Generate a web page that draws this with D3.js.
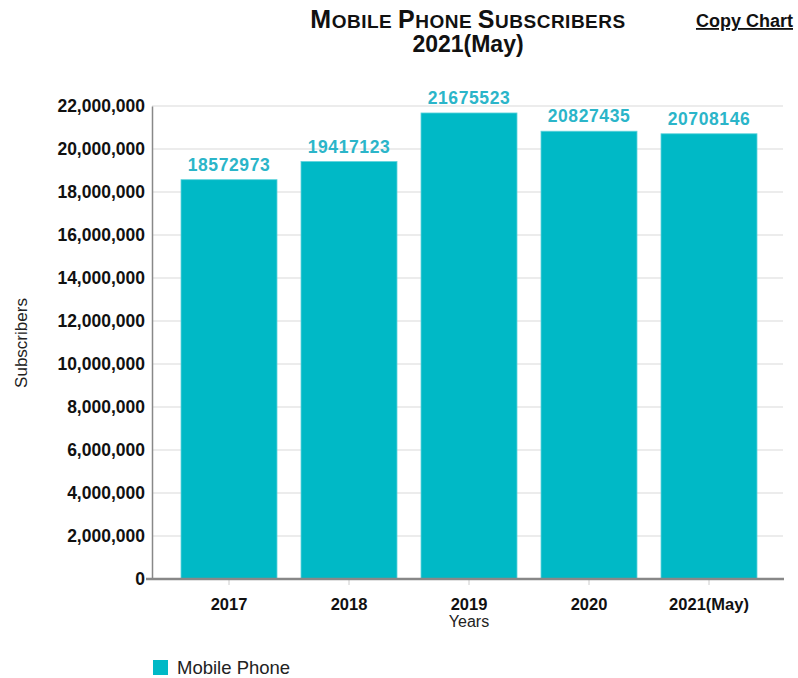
<!DOCTYPE html>
<html>
<head>
<meta charset="utf-8">
<script src="https://cdn.jsdelivr.net/npm/d3@7"></script>
<style>
  html, body { margin: 0; padding: 0; background: #fff; }
  svg { display: block; font-family: Arial, "Liberation Sans", sans-serif; }
</style>
</head>
<body>
<svg id="chart" width="798" height="678"></svg>
<script>
// Subscriber counts per year
const years = ["2017", "2018", "2019", "2020", "2021(May)"];
const subscribers = [18572973, 19417123, 21675523, 20827435, 20708146];
const yTicks = [0, 2000000, 4000000, 6000000, 8000000, 10000000, 12000000,
                14000000, 16000000, 18000000, 20000000, 22000000];
const seriesName = "Mobile Phone";

const barColor = "#00b9c6";
const labelColor = "#2bb5c9";
const fontStack = "Arial, 'Liberation Sans', sans-serif";

const svg = d3.select("#chart");
const plot = { left: 152, right: 783, top: 106, bottom: 579 };

const x = d3.scaleBand()
  .domain(years)
  .range([169, 769])
  .paddingInner(0.2)
  .paddingOuter(0.1);

const y = d3.scaleLinear()
  .domain([0, 22000000])
  .range([plot.bottom, plot.top]);

// Horizontal grid lines
svg.append("g")
  .selectAll("line")
  .data(yTicks.filter(t => t > 0))
  .join("line")
  .attr("x1", plot.left)
  .attr("x2", plot.right)
  .attr("y1", d => y(d))
  .attr("y2", d => y(d))
  .attr("stroke", "#e6e6e6")
  .attr("stroke-width", 1.5);

const rows = years.map((yr, i) => ({ yr, v: subscribers[i] }));

// Bars
svg.append("g")
  .selectAll("rect")
  .data(rows)
  .join("rect")
  .attr("x", d => x(d.yr))
  .attr("width", x.bandwidth())
  .attr("y", d => y(d.v))
  .attr("height", d => y(0) - y(d.v))
  .attr("fill", barColor)
  .attr("stroke", "#5fd3dc")
  .attr("stroke-width", 0.8);

// Value labels above bars
svg.append("g")
  .selectAll("text")
  .data(rows)
  .join("text")
  .attr("x", d => x(d.yr) + x.bandwidth() / 2)
  .attr("y", d => y(d.v) - 9)
  .attr("text-anchor", "middle")
  .attr("fill", labelColor)
  .attr("font-size", 17.5)
  .attr("font-weight", "bold")
  .attr("letter-spacing", 0.6)
  .text(d => d.v);

// Y axis
const yAxis = svg.append("g")
  .attr("transform", `translate(${plot.left},0)`)
  .call(d3.axisLeft(y)
    .tickValues(yTicks)
    .tickSize(0)
    .tickPadding(7)
    .tickFormat(d3.format(",")));
yAxis.select(".domain").attr("stroke", "#888").attr("stroke-width", 1.5);
yAxis.selectAll("text")
  .attr("font-size", 17.5)
  .attr("font-weight", "bold")
  .attr("fill", "#111")
  .attr("font-family", fontStack);

// X axis
const xAxis = svg.append("g")
  .attr("transform", `translate(0,${plot.bottom})`)
  .call(d3.axisBottom(x).tickSize(6).tickPadding(13).tickSizeOuter(0));
xAxis.select(".domain").remove();
xAxis.selectAll(".tick line").attr("stroke", "#ccc");
xAxis.selectAll("text")
  .attr("font-size", 16.5)
  .attr("font-weight", "bold")
  .attr("fill", "#111")
  .attr("font-family", fontStack);
svg.append("line")
  .attr("x1", plot.left - 6)
  .attr("x2", plot.right + 1)
  .attr("y1", plot.bottom)
  .attr("y2", plot.bottom)
  .attr("stroke", "#888")
  .attr("stroke-width", 2.5);

// Axis titles
svg.append("text")
  .attr("x", (x.range()[0] + x.range()[1]) / 2)
  .attr("y", 627)
  .attr("text-anchor", "middle")
  .attr("font-size", 16)
  .attr("fill", "#222")
  .text("Years");

svg.append("text")
  .attr("transform", "translate(27,343) rotate(-90)")
  .attr("text-anchor", "middle")
  .attr("font-size", 17)
  .attr("fill", "#222")
  .text("Subscribers");

// Title in small capitals
const title = svg.append("text")
  .attr("x", 468)
  .attr("y", 28)
  .attr("text-anchor", "middle")
  .attr("font-weight", "bold")
  .attr("letter-spacing", 0.5)
  .attr("fill", "#111");
[["M", 25], ["OBILE ", 19], ["P", 25], ["HONE ", 19], ["S", 25], ["UBSCRIBERS", 19]]
  .forEach(([t, s]) => title.append("tspan").attr("font-size", s).text(t));

svg.append("text")
  .attr("x", 468)
  .attr("y", 52)
  .attr("text-anchor", "middle")
  .attr("font-size", 23)
  .attr("font-weight", "bold")
  .attr("fill", "#111")
  .text("2021(May)");

svg.append("text")
  .attr("x", 793)
  .attr("y", 27)
  .attr("text-anchor", "end")
  .attr("font-size", 18)
  .attr("font-weight", "bold")
  .attr("fill", "#111")
  .attr("text-decoration", "underline")
  .text("Copy Chart");

// Legend
svg.append("rect")
  .attr("x", 153)
  .attr("y", 660)
  .attr("width", 15)
  .attr("height", 15)
  .attr("fill", barColor);
svg.append("text")
  .attr("x", 177)
  .attr("y", 674)
  .attr("font-size", 18.5)
  .attr("fill", "#222")
  .text(seriesName);
</script>
</body>
</html>
